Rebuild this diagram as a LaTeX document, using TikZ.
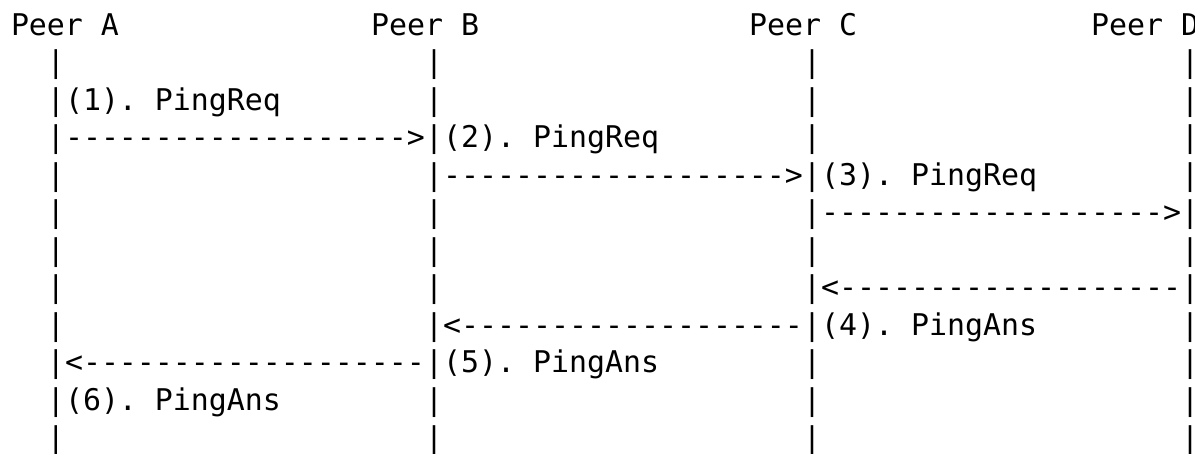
\documentclass[tikz,border=0pt]{standalone}
\usepackage{fontspec}
\setmonofont{DejaVu Sans Mono}
\begin{document}
\begin{tikzpicture}[x=1pt,y=1pt,
  txt/.style={anchor=base west, inner sep=0pt, outer sep=0pt,
    font=\ttfamily\fontsize{29.9}{36}\selectfont},
  lifebar/.style={anchor=base, inner sep=0pt, outer sep=0pt,
    font=\ttfamily\fontsize{29.9}{36}\selectfont}]
\fill[white] (0,0) rectangle (1195,-454);
\useasboundingbox (0,0) rectangle (1195,-454);
\def\cw{18}\def\lx{11}\def\ty{35.5}\def\lp{37.5}
\newcommand\cellat[4]{\node[txt] (#1) at ({\lx+#2*\cw},{-\ty-(#3-1)*\lp}) {#4};}
% peers
\cellat{pA}{0}{1}{Peer A}
\cellat{pB}{20}{1}{Peer B}
\cellat{pC}{41}{1}{Peer C}
\cellat{pD}{60}{1}{Peer D}
% lifelines
\foreach \r in {2,...,12}{
  \foreach \c/\n in {2/A,23/B,44/C,65/D}{
    \node[lifebar] (bar\n\r) at ({\lx+(\c+0.5)*\cw},{-\ty-(\r-1)*\lp}) {\makebox[0pt]{|}};
  }
}
% messages
\cellat{l1}{3}{3}{(1). PingReq}
\cellat{m1}{3}{4}{------------------->}
\cellat{l2}{24}{4}{(2). PingReq}
\cellat{m2}{24}{5}{------------------->}
\cellat{l3}{45}{5}{(3). PingReq}
\cellat{m3}{45}{6}{------------------->}
\cellat{m4}{45}{8}{<-------------------}
\cellat{m5}{24}{9}{<-------------------}
\cellat{l4}{45}{9}{(4). PingAns}
\cellat{m6}{3}{10}{<-------------------}
\cellat{l5}{24}{10}{(5). PingAns}
\cellat{l6}{3}{11}{(6). PingAns}
\end{tikzpicture}
\end{document}
